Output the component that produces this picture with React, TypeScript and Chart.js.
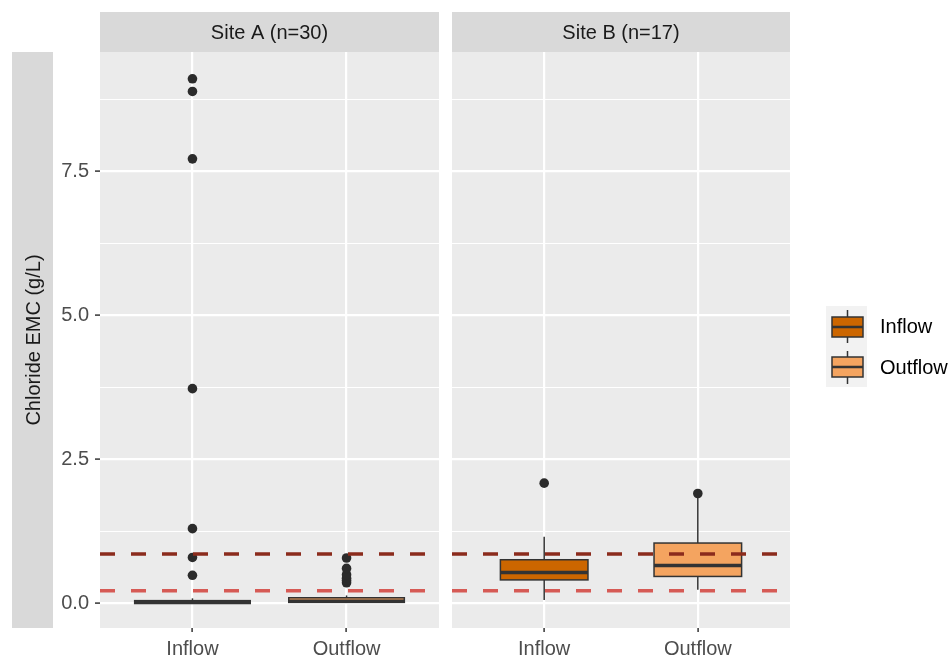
import React, { useEffect, useRef } from "react";
import { Chart, registerables } from "chart.js";
Chart.register(...registerables);

// ---------------- data ----------------
const categories = ["Inflow", "Outflow"];
const panelLabels = ["Site A (n=30)", "Site B (n=17)"];
const yTitle = "Chloride EMC (g/L)";
const yMajorTicks = [0, 2.5, 5, 7.5];
const yMinorTicks = [1.25, 3.75, 6.25, 8.75];

// box stats: [whiskerLow, q1, median, q3, whiskerHigh]
const siteAInflowBox = [0.0, 0.0, 0.02, 0.05, 0.09];
const siteAOutflowBox = [0.02, 0.02, 0.04, 0.1, 0.14];
const siteBInflowBox = [0.06, 0.41, 0.54, 0.76, 1.16];
const siteBOutflowBox = [0.24, 0.47, 0.66, 1.05, 1.9];

const siteAInflowOutliers = [0.49, 0.8, 1.3, 3.73, 7.72, 8.89, 9.11];
const siteAOutflowOutliers = [0.36, 0.4, 0.44, 0.5, 0.61, 0.79];
const siteBInflowOutliers = [2.09];
const siteBOutflowOutliers = [1.91];

const guideUpper = 0.86;
const guideLower = 0.22;

// ---------------- style ----------------
const FILL = ["#CC6600", "#F4A460"];
const PANEL_BG = "#EBEBEB";
const STRIP_BG = "#D9D9D9";
const AXIS_TEXT = "#4D4D4D";
const STRIP_TEXT = "#1A1A1A";
const BOX_LINE = "#333333";

function pickFont() {
  const c = document.createElement("canvas").getContext("2d")!;
  const s = "Site A (n=30) Outflow Chloride";
  c.font = "24px monospace";
  const a = c.measureText(s).width;
  c.font = '24px "Liberation Sans Narrow", monospace';
  const b = c.measureText(s).width;
  if (Math.abs(a - b) > 1) {
    return { family: '"Liberation Sans Narrow", "Liberation Sans", Arial, sans-serif', size: 24 };
  }
  return { family: '"Liberation Sans", Arial, sans-serif', size: 20 };
}

const isMajor = (v: number) => yMajorTicks.some((m) => Math.abs(m - v) < 1e-6);

const stripPlugin = {
  id: "strips",
  beforeDraw(chart: any, _args: any, opts: any) {
    const { ctx, chartArea } = chart;
    const f = opts.font;
    ctx.save();
    ctx.fillStyle = PANEL_BG;
    ctx.fillRect(chartArea.left, chartArea.top, chartArea.right - chartArea.left, chartArea.bottom - chartArea.top);
    ctx.fillStyle = STRIP_BG;
    ctx.fillRect(chartArea.left, chartArea.top - 40, chartArea.right - chartArea.left, 40);
    ctx.fillStyle = STRIP_TEXT;
    ctx.font = `${f.size}px ${f.family}`;
    ctx.textAlign = "center";
    ctx.textBaseline = "middle";
    ctx.fillText(opts.label, (chartArea.left + chartArea.right) / 2, chartArea.top - 19);
    if (opts.yStrip) {
      ctx.fillStyle = STRIP_BG;
      ctx.fillRect(12, chartArea.top, 41, chartArea.bottom - chartArea.top);
      ctx.save();
      ctx.translate(33, (chartArea.top + chartArea.bottom) / 2);
      ctx.rotate(-Math.PI / 2);
      ctx.fillStyle = STRIP_TEXT;
      ctx.fillText(yTitle, 0, 1);
      ctx.restore();
    }
    ctx.restore();
  },
};

const boxPlugin = {
  id: "boxes",
  beforeDatasetsDraw(chart: any, _args: any, opts: any) {
    const { ctx } = chart;
    const xs = chart.scales.x;
    const ys = chart.scales.y;
    ctx.save();
    opts.stats.forEach((st: number[], i: number) => {
      const cx = xs.getPixelForValue(i + 1);
      const hw = xs.getPixelForValue(1 + opts.width / 2) - xs.getPixelForValue(1);
      const [wl, q1, md, q3, wh] = st.map((v) => ys.getPixelForValue(v));
      ctx.strokeStyle = BOX_LINE;
      ctx.lineWidth = 1.5;
      ctx.beginPath();
      ctx.moveTo(cx, wl);
      ctx.lineTo(cx, q1);
      ctx.moveTo(cx, q3);
      ctx.lineTo(cx, wh);
      ctx.stroke();
      ctx.fillStyle = FILL[i];
      ctx.fillRect(cx - hw, q3, hw * 2, q1 - q3);
      ctx.strokeRect(cx - hw, q3, hw * 2, q1 - q3);
      ctx.lineWidth = 3.5;
      ctx.beginPath();
      ctx.moveTo(cx - hw, md);
      ctx.lineTo(cx + hw, md);
      ctx.stroke();
    });
    ctx.restore();
  },
};

const legendPlugin = {
  id: "boxLegend",
  afterDraw(chart: any, _args: any, opts: any) {
    if (!opts.show) return;
    const { ctx } = chart;
    const ox = opts.offsetX;
    const f = opts.font;
    ctx.save();
    ctx.fillStyle = "#F2F2F2";
    ctx.fillRect(826 - ox, 306, 41, 81);
    const keys = [
      { top: 317, bottom: 337, wt: 310, wb: 343, ty: 327 },
      { top: 357, bottom: 377, wt: 351, wb: 384, ty: 368 },
    ];
    keys.forEach((k, i) => {
      const cx = 847.5 - ox;
      ctx.strokeStyle = BOX_LINE;
      ctx.lineWidth = 1.5;
      ctx.beginPath();
      ctx.moveTo(cx, k.wt);
      ctx.lineTo(cx, k.wb);
      ctx.stroke();
      ctx.fillStyle = FILL[i];
      ctx.fillRect(cx - 15.5, k.top, 31, k.bottom - k.top);
      ctx.strokeRect(cx - 15.5, k.top, 31, k.bottom - k.top);
      ctx.lineWidth = 2.5;
      ctx.beginPath();
      ctx.moveTo(cx - 15.5, (k.top + k.bottom) / 2);
      ctx.lineTo(cx + 15.5, (k.top + k.bottom) / 2);
      ctx.stroke();
      ctx.fillStyle = "#000";
      ctx.font = `${f.size}px ${f.family}`;
      ctx.textAlign = "left";
      ctx.textBaseline = "middle";
      ctx.fillText(categories[i], 880 - ox, k.ty);
    });
    ctx.restore();
  },
};

function buildConfig(panel: number, font: { family: string; size: number }): any {
  const isLeft = panel === 0;
  const offsetX = isLeft ? 0 : 445;
  const canvasW = isLeft ? 445 : 504;
  const areaLeft = isLeft ? 100 : 452;
  const areaRight = isLeft ? 439 : 790;
  const stats = isLeft ? [siteAInflowBox, siteAOutflowBox] : [siteBInflowBox, siteBOutflowBox];
  const outl = isLeft
    ? [siteAInflowOutliers, siteAOutflowOutliers]
    : [siteBInflowOutliers, siteBOutflowOutliers];
  const allY = [...yMajorTicks, ...yMinorTicks].sort((a, b) => a - b);
  const fontOpt = { family: font.family, size: font.size };

  return {
    type: "scatter",
    data: {
      datasets: [
        {
          type: "line",
          data: [
            { x: 0.4, y: guideUpper },
            { x: 2.6, y: guideUpper },
          ],
          borderColor: "#8B2B1C",
          borderWidth: 3.5,
          borderDash: [15, 16],
          pointRadius: 0,
          showLine: true,
          fill: false,
        },
        {
          type: "line",
          data: [
            { x: 0.4, y: guideLower },
            { x: 2.6, y: guideLower },
          ],
          borderColor: "#D65A55",
          borderWidth: 3.5,
          borderDash: [15, 16],
          pointRadius: 0,
          showLine: true,
          fill: false,
        },
        ...outl.map((vals, i) => ({
          data: vals.map((y) => ({ x: i + 1, y })),
          pointRadius: 4.8,
          pointBackgroundColor: "#2B2B2B",
          pointBorderWidth: 0,
          pointBorderColor: "rgba(0,0,0,0)",
        })),
      ],
    },
    options: {
      animation: false,
      responsive: false,
      events: [],
      layout: {
        padding: {
          left: isLeft ? 0 : areaLeft - offsetX,
          right: canvasW - (areaRight - offsetX),
          top: 52,
          bottom: 0,
        },
      },
      scales: {
        x: {
          type: "linear",
          min: 0.4,
          max: 2.6,
          afterBuildTicks: (ax: any) => {
            ax.ticks = categories.map((_c, i) => ({ value: i + 1 }));
          },
          afterFit: (ax: any) => {
            ax.height = 34;
          },
          ticks: {
            callback: (v: number) => categories[Math.round(v) - 1] ?? "",
            color: AXIS_TEXT,
            font: fontOpt,
            padding: 5,
            maxRotation: 0,
            autoSkip: false,
          },
          grid: {
            color: "#FFFFFF",
            lineWidth: 2.2,
            tickColor: BOX_LINE,
            tickLength: 4,
            tickWidth: 1.5,
          },
          border: { display: false },
        },
        y: {
          type: "linear",
          min: -0.425,
          max: 9.575,
          afterBuildTicks: (ax: any) => {
            ax.ticks = allY.map((v) => ({ value: v }));
          },
          afterFit: (ax: any) => {
            ax.width = isLeft ? areaLeft : 0;
          },
          ticks: {
            display: isLeft,
            callback: (v: number) => (isMajor(v) ? v.toFixed(1) : ""),
            color: AXIS_TEXT,
            font: fontOpt,
            padding: 6,
            autoSkip: false,
          },
          grid: {
            color: "#FFFFFF",
            lineWidth: (c: any) => (c.tick && isMajor(c.tick.value) ? 2.2 : 1.1),
            drawTicks: isLeft,
            tickColor: (c: any) => (c.tick && isMajor(c.tick.value) ? BOX_LINE : "rgba(0,0,0,0)"),
            tickLength: 5,
            tickWidth: 1.5,
          },
          border: { display: false },
        },
      },
      plugins: {
        legend: { display: false },
        tooltip: { enabled: false },
        strips: { label: panelLabels[panel], yStrip: isLeft, font },
        boxes: { stats, width: isLeft ? 0.75 : 0.57 },
        boxLegend: { show: !isLeft, offsetX, font },
      },
    },
    plugins: [stripPlugin, boxPlugin, legendPlugin],
  };
}

export default function App() {
  const leftRef = useRef<HTMLCanvasElement>(null);
  const rightRef = useRef<HTMLCanvasElement>(null);
  useEffect(() => {
    const f = pickFont();
    const left = new Chart(leftRef.current!, buildConfig(0, f));
    const right = new Chart(rightRef.current!, buildConfig(1, f));
    return () => {
      left.destroy();
      right.destroy();
    };
  }, []);
  return (
    <div style={{ position: "absolute", left: 0, top: 0, width: 949, height: 662, background: "#FFFFFF" }}>
      <canvas ref={leftRef} width={445} height={662} style={{ position: "absolute", left: 0, top: 0 }} />
      <canvas ref={rightRef} width={504} height={662} style={{ position: "absolute", left: 445, top: 0 }} />
    </div>
  );
}
